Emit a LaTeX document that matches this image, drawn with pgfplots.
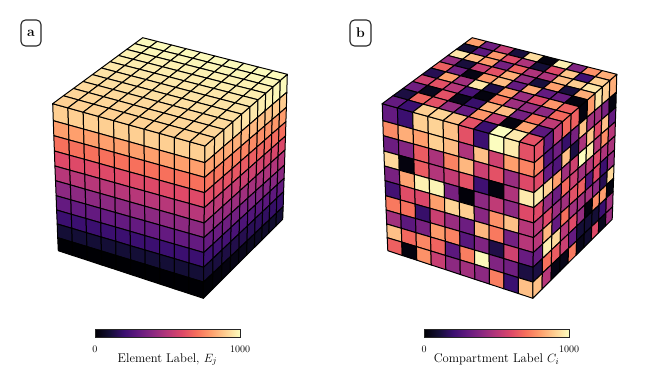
\documentclass[border=0pt]{standalone}
\usepackage{pgfplots}
\usepackage{pgfplotstable}
\pgfplotsset{compat=1.18}
\pgfplotsset{colormap={magma}{rgb255=(0,0,4) rgb255=(20,14,54) rgb255=(59,15,112) rgb255=(100,26,128) rgb255=(140,41,129) rgb255=(183,55,121) rgb255=(222,73,104) rgb255=(247,112,92) rgb255=(254,159,109) rgb255=(254,207,146) rgb255=(252,253,191)}}
\pgfplotstableread{
x y a b
52.7 103.7 900 300
67.9 107.9 900 200
83.2 112.2 900 900
98.4 116.4 900 910
113.6 120.6 900 870
128.9 124.9 900 620
144.1 129.1 900 200
159.3 133.3 900 1000
174.5 137.5 900 960
189.8 141.8 900 620
205 146 0 0
53.3 120.7 800 760
68.5 124.9 800 830
83.6 129.1 800 800
98.8 133.3 800 900
113.9 137.5 800 860
129.1 141.7 800 480
144.2 145.9 800 870
159.4 150.1 800 560
174.5 154.3 800 800
189.6 158.5 800 740
204.8 162.7 0 0
53.8 135.7 700 320
68.9 139.9 700 380
84 144 700 650
99.1 148.2 700 470
114.2 152.4 700 740
129.3 156.6 700 850
144.3 160.7 700 550
159.4 164.9 700 620
174.5 169.1 700 430
189.6 173.2 700 600
204.7 177.4 0 0
54.4 151 600 920
69.4 155.2 600 20
84.4 159.3 600 650
99.4 163.5 600 490
114.4 167.7 600 530
129.5 171.9 600 620
144.5 176 600 210
159.5 180.2 600 20
174.5 184.4 600 480
189.5 188.5 600 960
204.5 192.7 0 0
54.9 166 500 350
69.8 170.2 500 810
84.8 174.3 500 970
99.7 178.5 500 980
114.7 182.7 500 350
129.6 186.9 500 10
144.5 191 500 400
159.5 195.2 500 520
174.4 199.4 500 400
189.4 203.5 500 600
204.3 207.7 0 0
55.5 180.7 400 220
70.4 184.9 400 610
85.2 189.2 400 590
100.1 193.4 400 800
115 197.6 400 910
129.9 201.9 400 900
144.7 206.1 400 390
159.6 210.3 400 770
174.5 214.5 400 870
189.3 218.8 400 500
204.2 223 0 0
56.1 195.7 300 720
70.9 199.9 300 700
85.7 204.1 300 190
100.5 208.3 300 550
115.3 212.5 300 430
130.1 216.7 300 320
144.8 220.8 300 850
159.6 225 300 720
174.4 229.2 300 340
189.2 233.4 300 500
204 237.6 0 0
56.6 210 200 450
71.3 214.3 200 280
86 218.5 200 350
100.8 222.8 200 790
115.5 227 200 740
130.2 231.3 200 270
144.9 235.6 200 370
159.6 239.8 200 130
174.4 244.1 200 560
189.1 248.3 200 310
203.8 252.6 0 0
57.2 224 100 870
71.8 228.3 100 680
86.5 232.7 100 750
101.1 237 100 670
115.8 241.3 100 280
130.4 245.7 100 730
145 250 100 990
159.7 254.3 100 370
174.3 258.6 100 330
189 263 100 120
203.6 267.3 0 0
57.7 237.7 0 660
72.3 242.1 0 20
86.9 246.6 0 770
101.4 251 0 540
116 255.5 0 400
130.6 259.9 0 450
145.2 264.3 0 400
159.8 268.8 0 730
174.3 273.2 0 200
188.9 277.7 0 870
203.5 282.1 0 0
58.3 250.7 0 0
72.8 255.5 0 0
87.3 260.2 0 0
101.8 265 0 0
116.3 269.7 0 0
130.8 274.5 0 0
145.3 279.3 0 0
159.8 284 0 0
174.3 288.8 0 0
188.8 293.5 0 0
203.3 298.3 0 0
}\tfront
\pgfplotstableread{
x y a b
205 146 905 620
214.6 137.6 915 280
224 129.4 925 520
233 121.6 935 680
241.6 114.1 945 660
250 106.8 955 20
258 99.8 965 790
265.7 93.2 975 950
273 86.8 985 900
280.3 80.4 995 830
287.3 74.3 0 0
204.8 162.7 805 740
214.4 154.5 815 250
223.7 146.4 825 330
232.7 138.8 835 190
241.3 131.4 845 350
249.7 124.2 855 870
257.6 117.4 865 450
265.2 110.8 875 450
272.5 104.5 885 350
279.8 98.3 895 20
286.8 92.3 0 0
204.7 177.4 705 600
214.3 169.2 715 300
223.6 161.2 725 250
232.5 153.6 735 870
241.1 146.2 745 120
249.4 139 755 470
257.3 132.3 765 880
264.9 125.7 775 600
272.2 119.5 785 870
279.5 113.3 795 300
286.4 107.3 0 0
204.5 192.7 605 960
214 184.4 615 900
223.3 176.3 625 800
232.2 168.6 635 450
240.7 161.1 645 560
249 153.9 655 1000
256.9 147 665 960
264.5 140.4 675 500
271.7 134 685 760
279 127.7 695 500
285.9 121.7 0 0
204.3 207.7 505 600
213.8 199.3 515 420
223.1 191.1 525 320
231.9 183.3 535 680
240.4 175.8 545 550
248.7 168.5 555 450
256.6 161.5 565 500
264.1 154.9 575 600
271.4 148.5 585 480
278.6 142.1 595 470
285.5 136 0 0
204.2 223 405 500
213.7 214.5 415 600
222.9 206.1 425 430
231.7 198.2 435 450
240.2 190.5 445 620
248.4 183.1 455 660
256.2 176 465 250
263.8 169.2 475 600
270.9 162.7 485 200
278.1 156.2 495 420
285 150 0 0
204 237.6 305 500
213.4 229.1 315 850
222.6 220.8 325 300
231.4 212.9 335 700
239.8 205.3 345 450
248 197.9 355 450
255.8 190.8 365 460
263.3 184.1 375 400
270.5 177.6 385 150
277.7 171.2 395 920
284.5 165 0 0
203.8 252.6 205 310
213.2 243.9 215 970
222.3 235.4 225 920
231.1 227.3 235 500
239.5 219.5 245 600
247.7 212 255 420
255.5 204.8 265 20
263 197.8 275 760
270.1 191.2 285 800
277.3 184.6 295 20
284.1 178.3 0 0
203.6 267.3 105 120
213 258.5 115 700
222.1 249.8 125 650
230.8 241.6 135 550
239.2 233.7 145 300
247.4 226 155 100
255.1 218.6 165 100
262.6 211.6 175 100
269.7 204.9 185 200
276.8 198.1 195 450
283.6 191.7 0 0
203.5 282.1 5 870
212.8 273.3 15 500
221.9 264.7 25 30
230.6 256.5 35 40
239 248.5 45 720
247.1 240.9 55 40
254.8 233.5 65 80
262.2 226.5 75 600
269.3 219.8 85 50
276.4 213.1 95 430
283.2 206.7 0 0
203.3 298.3 0 0
212.6 289.1 0 0
221.6 280 0 0
230.3 271.4 0 0
238.6 263.1 0 0
246.7 255.1 0 0
254.4 247.4 0 0
261.8 240.1 0 0
268.9 233 0 0
276 226 0 0
282.7 219.3 0 0
}\tright
\pgfplotstableread{
x y a b
142.7 37.7 995 800
157.2 41.4 995 330
171.6 45 995 530
186.1 48.7 995 110
200.5 52.3 995 930
215 56 995 20
229.5 59.7 995 970
243.9 63.3 995 370
258.4 67 995 770
272.8 70.6 995 830
287.3 74.3 0 0
134.7 43.6 985 100
149.3 47.3 985 280
163.8 51 985 780
178.4 54.6 985 600
192.9 58.3 985 480
207.5 62 985 100
222.1 65.7 985 600
236.6 69.4 985 880
251.2 73 985 210
265.7 76.7 985 900
280.3 80.4 0 0
126.7 49.4 975 950
141.3 53.1 975 860
156 56.9 975 790
170.6 60.6 975 340
185.2 64.4 975 660
199.9 68.1 975 480
214.5 71.8 975 480
229.1 75.6 975 860
243.7 79.3 975 900
258.4 83.1 975 950
273 86.8 0 0
118.4 55.5 965 420
133.1 59.3 965 110
147.9 63 965 540
162.6 66.8 965 620
177.3 70.6 965 830
192.1 74.4 965 420
206.8 78.1 965 110
221.5 81.9 965 800
236.2 85.7 965 110
251 89.4 965 830
265.7 93.2 0 0
110 61.7 955 660
124.8 65.5 955 330
139.6 69.3 955 30
154.4 73.1 955 780
169.2 76.9 955 860
184 80.8 955 300
198.8 84.6 955 820
213.6 88.4 955 300
228.4 92.2 955 310
243.2 96 955 20
258 99.8 0 0
101.4 68 945 150
116.3 71.9 945 800
131.1 75.8 945 450
146 79.6 945 950
160.8 83.5 945 130
175.7 87.4 945 790
190.6 91.3 945 430
205.4 95.2 945 600
220.3 99 945 780
235.1 102.9 945 660
250 106.8 0 0
92.4 74.6 935 560
107.3 78.6 935 620
122.2 82.5 935 500
137.2 86.5 935 230
152.1 90.4 935 20
167 94.4 935 720
181.9 98.3 935 440
196.8 102.3 935 420
211.8 106.2 935 400
226.7 110.2 935 680
241.6 114.1 0 0
83 81.5 925 330
98 85.5 925 50
113 89.5 925 620
128 93.5 925 40
143 97.5 925 190
158 101.6 925 840
173 105.6 925 860
188 109.6 925 340
203 113.6 925 690
218 117.6 925 520
233 121.6 0 0
73.4 88.5 915 120
88.5 92.6 915 670
103.5 96.7 915 620
118.6 100.8 915 420
133.6 104.9 915 300
148.7 109 915 780
163.8 113 915 530
178.8 117.1 915 20
193.9 121.2 915 810
208.9 125.3 915 280
224 129.4 0 0
63.4 95.8 905 300
78.5 100 905 200
93.6 104.2 905 900
108.8 108.3 905 910
123.9 112.5 905 870
139 116.7 905 620
154.1 120.9 905 200
169.2 125.1 905 1000
184.4 129.2 905 960
199.5 133.4 905 620
214.6 137.6 0 0
52.7 103.7 0 0
67.9 107.9 0 0
83.2 112.2 0 0
98.4 116.4 0 0
113.6 120.6 0 0
128.9 124.9 0 0
144.1 129.1 0 0
159.3 133.3 0 0
174.5 137.5 0 0
189.8 141.8 0 0
205 146 0 0
}\ttop
\pgfplotsset{cube/.style={
  view={0}{90}, scale only axis, width=330pt, height=376pt,
  xmin=0, xmax=330, ymin=0, ymax=376, hide axis, anchor=south west,
  colormap name=magma, point meta min=0, point meta max=1000,
  colorbar horizontal,
}}
\pgfplotsset{cellstyle/.style={surf, shader=flat corner, draw=black, line width=1pt, line join=round, z buffer=none, mesh/cols=11, mesh/rows=11, mesh/ordering=x varies, point meta=explicit}}
\pgfplotsset{barstyle/.style={
  anchor=north west, width=145pt, height=8pt,
  xtick={0,1000}, xtick pos=left, xticklabel pos=left, major tick length=3pt,
  tick style={black, line width=0.6pt}, axis line style={black!85, line width=1pt},
  tick label style={font=\fontsize{10}{10}\selectfont, /pgf/number format/1000 sep={}, yshift=-5.2pt},
  xlabel style={font=\fontsize{12.6}{13}\selectfont, yshift=5.8pt}, ytick=\empty,
  scaled x ticks=false,
}}
\begin{document}
\begin{tikzpicture}[x=1pt,y=1pt]
\useasboundingbox (0,0) rectangle (665,376);
\begin{axis}[cube, at={(0,0)}, colorbar style={barstyle, at={(95pt,55.4pt)}, xlabel={Element Label, $E_j$}}]
\addplot3[cellstyle] table[x=x, y expr=376-\thisrow{y}, z expr=0, meta=a] {\tfront};
\addplot3[cellstyle] table[x=x, y expr=376-\thisrow{y}, z expr=0, meta=a] {\tright};
\addplot3[cellstyle] table[x=x, y expr=376-\thisrow{y}, z expr=0, meta=a] {\ttop};
\end{axis}
\begin{axis}[cube, at={(329.5pt,0)}, colorbar style={barstyle, at={(424pt,55.4pt)}, xlabel={Compartment Label $C_i$}}]
\addplot3[cellstyle] table[x=x, y expr=376-\thisrow{y}, z expr=0, meta=b] {\tfront};
\addplot3[cellstyle] table[x=x, y expr=376-\thisrow{y}, z expr=0, meta=b] {\tright};
\addplot3[cellstyle] table[x=x, y expr=376-\thisrow{y}, z expr=0, meta=b] {\ttop};
\end{axis}
\draw[rounded corners=4.5pt, line width=1.1pt, black!85] (21,330) rectangle (41,356);
\node[font=\fontsize{14}{14}\selectfont\bfseries] at (31,343) {a};
\draw[rounded corners=4.5pt, line width=1.1pt, black!85] (350,330) rectangle (371,356);
\node[font=\fontsize{14}{14}\selectfont\bfseries] at (360.5,343) {b};
\end{tikzpicture}
\end{document}
